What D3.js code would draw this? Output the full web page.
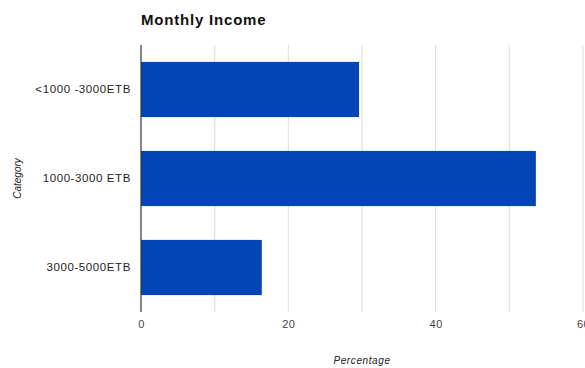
<!DOCTYPE html>
<html>
<head>
<meta charset="utf-8">
<script src="https://cdn.jsdelivr.net/npm/d3@7"></script>
<style>
  html, body { margin: 0; padding: 0; background: #fff; }
  svg { display: block; font-family: Arial, "Liberation Sans", sans-serif; }
</style>
</head>
<body>
<svg id="chart" width="585" height="368"></svg>
<script>
// Monthly income categories and their share of respondents (%)
const categories = ["<1000 -3000ETB", "1000-3000 ETB", "3000-5000ETB"];
const percentages = [29.6, 53.6, 16.4];
const xTicks = [0, 20, 40, 60];
const gridValues = [10, 20, 30, 40, 50, 60];

const svg = d3.select("#chart");
const margin = { top: 45, right: 2, bottom: 56, left: 141 };
const W = 585, H = 368;
const innerW = W - margin.left - margin.right;
const innerH = H - margin.top - margin.bottom;

const x = d3.scaleLinear().domain([0, 60]).range([margin.left, margin.left + innerW]);
const y = d3.scaleBand().domain(categories).range([margin.top, margin.top + innerH])
  .paddingInner(0.38).paddingOuter(0.19);

// Vertical gridlines
svg.append("g").selectAll("line").data(gridValues).join("line")
  .attr("x1", d => x(d)).attr("x2", d => x(d))
  .attr("y1", margin.top).attr("y2", margin.top + innerH)
  .attr("stroke", "#dcdcdc").attr("stroke-width", 1);

// Bars
svg.append("g").selectAll("rect").data(categories).join("rect")
  .attr("x", x(0))
  .attr("y", d => y(d))
  .attr("width", (d, i) => x(percentages[i]) - x(0))
  .attr("height", y.bandwidth())
  .attr("fill", "#0246b5");

// Baseline axis at zero
svg.append("line")
  .attr("x1", x(0)).attr("x2", x(0))
  .attr("y1", margin.top).attr("y2", margin.top + innerH)
  .attr("stroke", "#333").attr("stroke-width", 1.2);

// X tick labels
const xAxis = d3.axisBottom(x).tickValues(xTicks).tickSize(0).tickPadding(8);
const gx = svg.append("g").attr("transform", `translate(0,${margin.top + innerH})`).call(xAxis);
gx.select(".domain").remove();
gx.selectAll("text").attr("font-size", 11).attr("fill", "#444")
  .attr("letter-spacing", "0.5px").attr("font-family", "Arial, 'Liberation Sans', sans-serif");

// Category labels
const yAxis = d3.axisLeft(y).tickSize(0).tickPadding(10);
const gy = svg.append("g").attr("transform", `translate(${margin.left},0)`).call(yAxis);
gy.select(".domain").remove();
gy.selectAll("text").attr("font-size", 11.5).attr("fill", "#222")
  .attr("letter-spacing", "0.6px").attr("font-family", "Arial, 'Liberation Sans', sans-serif");

// Title
svg.append("text")
  .attr("x", margin.left).attr("y", 25)
  .attr("font-size", 15).attr("font-weight", "bold").attr("fill", "#111")
  .attr("letter-spacing", "0.8px")
  .text("Monthly Income");

// Axis titles
svg.append("text")
  .attr("x", margin.left + innerW / 2).attr("y", 364)
  .attr("text-anchor", "middle").attr("font-size", 10).attr("font-style", "italic")
  .attr("letter-spacing", "0.6px").attr("fill", "#222")
  .text("Percentage");

svg.append("text")
  .attr("transform", `translate(21,${margin.top + innerH / 2}) rotate(-90)`)
  .attr("text-anchor", "middle").attr("font-size", 10).attr("font-style", "italic")
  .attr("fill", "#222")
  .text("Category");
</script>
</body>
</html>
